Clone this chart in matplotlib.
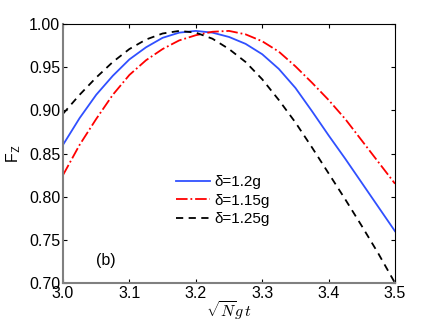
import matplotlib
matplotlib.use("Agg")
import matplotlib.pyplot as plt

plt.rcParams['font.family'] = ['Liberation Sans', 'DejaVu Sans']
plt.rcParams['mathtext.fontset'] = 'cm'

t = [3.000, 3.025, 3.050, 3.075, 3.100, 3.125, 3.150, 3.175, 3.200, 3.225,
     3.250, 3.275, 3.300, 3.325, 3.350, 3.375, 3.400, 3.425, 3.450, 3.475, 3.500]

fz_120 = [0.860, 0.891, 0.918, 0.940, 0.959, 0.973, 0.984, 0.990, 0.992, 0.990,
          0.985, 0.977, 0.965, 0.948, 0.926, 0.899, 0.871, 0.844, 0.816, 0.788, 0.760]
fz_115 = [0.825, 0.860, 0.890, 0.918, 0.941, 0.958, 0.971, 0.981, 0.987, 0.991,
          0.992, 0.988, 0.980, 0.968, 0.951, 0.932, 0.912, 0.890, 0.865, 0.840, 0.815]
fz_125 = [0.896, 0.918, 0.938, 0.956, 0.971, 0.982, 0.989, 0.992, 0.990, 0.983,
          0.971, 0.956, 0.936, 0.912, 0.886, 0.857, 0.827, 0.797, 0.766, 0.734, 0.700]

labels = ["δ=1.2g", "δ=1.15g", "δ=1.25g"]

fig = plt.figure(figsize=(4.36, 3.25), dpi=100)
ax = fig.add_axes([63/436, 1-283/325, 332/436, 259/325])

ax.plot(t, fz_120, color="#3050ff", lw=1.3, label=labels[0])
ax.plot(t, fz_115, color="red", lw=1.3, ls="-.", label=labels[1])
ax.plot(t, fz_125, color="black", lw=1.3, ls=(0, (4, 3)), label=labels[2])

ax.set_xlim(3.0, 3.5)
ax.set_ylim(0.70, 1.00)
ax.set_xticks([3.0, 3.1, 3.2, 3.3, 3.4, 3.5])
ax.set_yticks([0.70, 0.75, 0.80, 0.85, 0.90, 0.95, 1.00])
ax.set_yticklabels(["0.70", "0.75", "0.80", "0.85", "0.90", "0.95", "1.00"])
ax.tick_params(direction="in", top=True, right=True, labelsize=11.5, length=3, pad=2)

for s in ["left", "bottom"]:
    ax.spines[s].set_color("#808080")
    ax.spines[s].set_linewidth(1.5)

ax.set_xlabel(r"$\sqrt{N}g\,t$", fontsize=11.5, labelpad=-1)
ax.set_ylabel(r"F$_\mathsf{Z}$", fontsize=11.5, labelpad=4)
ax.text(3.05, 0.721, "(b)", fontsize=11.5)

ax.legend(loc="upper left", bbox_to_anchor=(0.30, 0.47), frameon=False,
          fontsize=11, handlelength=2.2, handletextpad=0.3, labelspacing=0.3)

fig.savefig("out.png", dpi=100)
